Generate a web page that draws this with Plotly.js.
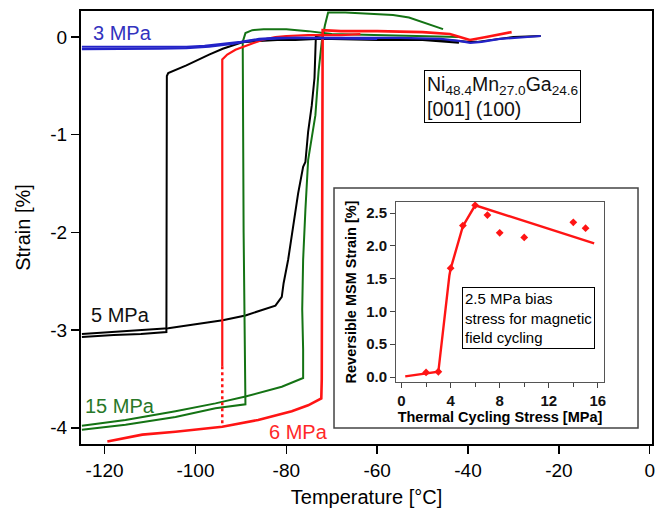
<!DOCTYPE html>
<html>
<head>
<meta charset="utf-8">
<script src="https://cdn.plot.ly/plotly-3.0.1.min.js"></script>
<style>html,body{margin:0;padding:0;background:#fff;}#chart{width:665px;height:514px;}</style>
</head>
<body>
<div id="chart"></div>
<script>
// ---------- main plot data (Temperature °C vs Strain %) ----------
const blue3CoolT = [-24, -28, -33, -37, -39.5, -42, -46, -55, -65, -75, -82, -86, -90, -94, -98, -102, -108, -115, -125];
const blue3CoolS = [0.01, 0.0, -0.02, -0.05, -0.06, -0.04, -0.02, -0.01, -0.01, -0.01, -0.01, -0.02, -0.05, -0.07, -0.09, -0.1, -0.1, -0.1, -0.1];
const blue3HeatT = [-125, -115, -108, -102, -97, -92, -88, -84, -78, -70, -60];
const blue3HeatS = [-0.125, -0.125, -0.12, -0.115, -0.1, -0.07, -0.04, -0.02, -0.01, -0.015, -0.02];

const black5CoolT = [-24, -30, -38, -40, -45, -55, -65, -73.6, -78, -82, -86, -89.7, -94, -97, -102, -106, -106.3, -106.4, -112, -118, -125];
const black5CoolS = [0.01, 0.0, -0.05, -0.05, -0.03, -0.02, -0.02, -0.02, -0.03, -0.03, -0.04, -0.055, -0.12, -0.18, -0.29, -0.37, -0.4, -3.02, -3.04, -3.05, -3.07];
const black5HeatT = [-125, -118, -112, -106, -100, -94, -89, -85.3, -82.4, -81, -80.6, -79.6, -78.5, -77.4, -76.3, -75.8, -75.2, -74.4, -73.8, -73.6, -73.5, -70, -60, -50, -42];
const black5HeatS = [-3.04, -3.02, -3.0, -2.98, -2.94, -2.9, -2.85, -2.79, -2.75, -2.66, -2.52, -2.28, -1.94, -1.6, -1.33, -1.28, -0.97, -0.7, -0.42, -0.18, 0.0, -0.02, -0.03, -0.03, -0.06];

const red6CoolT = [-63.7, -68, -72, -75.2, -80, -82.4, -85.3, -88.4, -91.2, -93, -94.1, -94.1];
const red6CoolS = [0.03, 0.02, 0.02, 0.02, 0.01, 0.0, -0.03, -0.08, -0.13, -0.18, -0.23, -3.37];
const red6DotT = [-94.1, -94.1];
const red6DotS = [-3.37, -3.99];
const red6HeatT = [-119.4, -111.7, -104.4, -94.1, -86.2, -78.8, -75.2, -72.3, -72.2, -72.0, -68, -60, -50, -44, -41.8, -39.6, -36, -33, -30.4];
const red6HeatS = [-4.14, -4.07, -4.04, -3.99, -3.92, -3.83, -3.77, -3.70, -3.5, 0.07, 0.06, 0.06, 0.05, 0.03, 0.0, -0.03, 0.0, 0.03, 0.05];

const green15CoolT = [-42, -50, -60, -70, -75.2, -80, -82.4, -85, -87.5, -89.0, -89.6, -89.4, -89.0, -95.6, -104.4, -115.4, -125];
const green15CoolS = [0.0, 0.01, 0.02, 0.03, 0.06, 0.08, 0.08, 0.08, 0.07, 0.04, -0.05, -2.0, -3.76, -3.80, -3.89, -3.97, -4.02];
const green15HeatT = [-125, -115.4, -104.4, -95.6, -89, -81, -76.3, -76.3, -76.5, -76.3, -75.8, -75.2, -74.4, -73.6, -72.9, -72.2, -71.5, -70.8, -67, -63.7, -60, -56.5, -53, -50.5, -48, -45.5];
const green15HeatS = [-3.98, -3.92, -3.83, -3.75, -3.68, -3.58, -3.49, -3.2, -2.79, -2.28, -1.77, -1.26, -1.03, -0.8, -0.35, -0.05, 0.12, 0.25, 0.25, 0.24, 0.235, 0.225, 0.2, 0.16, 0.12, 0.08];

const xTickVals = [-120, -100, -80, -60, -40, -20, 0];
const xTickText = ['-120', '-100', '-80', '-60', '-40', '-20', '0'];
const yTickVals = [0, -1, -2, -3, -4];
const yTickText = ['0', '-1', '-2', '-3', '-4'];

// ---------- inset data ----------
const insetLineStress = [0.3, 2, 3, 3.9, 4, 5, 6, 15.7];
const insetLineStrain = [0.01, 0.06, 0.08, 1.55, 1.65, 2.3, 2.62, 2.04];
const insetPtStress = [2, 3, 4, 5, 6, 7, 8, 10, 14, 15];
const insetPtStrain = [0.07, 0.08, 1.66, 2.31, 2.62, 2.47, 2.2, 2.13, 2.36, 2.27];
const insetXTicks = [0, 4, 8, 12, 16];
const insetYTicks = [0, 0.5, 1.0, 1.5, 2.0, 2.5];

const BLUE = 'rgb(35,35,200)', BLACK = '#000', RED = 'rgb(255,20,20)', GREEN = 'rgb(20,115,20)';
const FONT = 'Liberation Sans, Arial, Helvetica, sans-serif';

function ln(x, y, color, w, dash) {
  return {x: x, y: y, type: 'scatter', mode: 'lines', xaxis: 'x', yaxis: 'y',
          line: {color: color, width: w, dash: dash || 'solid'}, hoverinfo: 'skip'};
}

const traces = [
  ln(black5CoolT, black5CoolS, BLACK, 2),
  ln(black5HeatT, black5HeatS, BLACK, 2),
  ln(green15CoolT, green15CoolS, GREEN, 2),
  ln(green15HeatT, green15HeatS, GREEN, 2),
  ln(red6CoolT, red6CoolS, RED, 2.2),
  ln(red6DotT, red6DotS, RED, 2.5, 'dot'),
  ln(red6HeatT, red6HeatS, RED, 2.6),
  ln(blue3CoolT, blue3CoolS, BLUE, 2.2),
  ln(blue3HeatT, blue3HeatS, BLUE, 2.2),
  {x: insetLineStress, y: insetLineStrain, type: 'scatter', mode: 'lines', xaxis: 'x2', yaxis: 'y2',
   line: {color: RED, width: 2.4}, hoverinfo: 'skip'},
  {x: insetPtStress, y: insetPtStrain, type: 'scatter', mode: 'markers', xaxis: 'x2', yaxis: 'y2',
   marker: {color: RED, size: 6, symbol: 'diamond'}, hoverinfo: 'skip'}
];

const layout = {
  width: 665, height: 514,
  margin: {l: 81, r: 13, t: 11, b: 70},
  paper_bgcolor: '#fff', plot_bgcolor: '#fff',
  showlegend: false,
  font: {family: FONT, color: '#000', size: 19},
  xaxis: {
    range: [-125.2, 0.5], showgrid: false, zeroline: false,
    showline: true, linecolor: '#000', linewidth: 2, mirror: true,
    ticks: 'outside', ticklen: 8, tickwidth: 1.5, tickcolor: '#000',
    tickvals: xTickVals, ticktext: xTickText, tickfont: {size: 19},
    title: {text: 'Temperature [°C]', font: {size: 20}, standoff: 10}
  },
  yaxis: {
    range: [-4.166, 0.266], showgrid: false, zeroline: false,
    showline: true, linecolor: '#000', linewidth: 2, mirror: true,
    ticks: 'outside', ticklen: 8, tickwidth: 1.5, tickcolor: '#000',
    tickvals: yTickVals, ticktext: yTickText, tickfont: {size: 19},
    title: {text: 'Strain [%]', font: {size: 20}, standoff: 14}
  },
  xaxis2: {
    domain: [0.5517, 0.9159], anchor: 'y2', range: [-0.45, 16.5],
    showgrid: false, zeroline: false,
    showline: true, linecolor: '#555', linewidth: 1, mirror: true,
    ticks: 'outside', ticklen: 5, tickwidth: 1, tickcolor: '#444',
    tickvals: insetXTicks, tickfont: {size: 15, color: '#111', weight: 'bold'},
    minor: {dtick: 2, ticks: 'outside', ticklen: 4, tickwidth: 1, tickcolor: '#444'},
    title: {text: 'Thermal Cycling Stress [MPa]', font: {size: 14.5, weight: 'bold'}, standoff: 2}
  },
  yaxis2: {
    domain: [0.1432, 0.5589], anchor: 'x2', range: [-0.076, 2.67],
    showgrid: false, zeroline: false,
    showline: true, linecolor: '#555', linewidth: 1, mirror: true,
    ticks: 'outside', ticklen: 5, tickwidth: 1, tickcolor: '#444',
    tickvals: insetYTicks, tickformat: '.1f', tickfont: {size: 15, color: '#111', weight: 'bold'},
    title: {text: 'Reversible MSM Strain [%]', font: {size: 14.5, weight: 'bold'}, standoff: 6}
  },
  shapes: [
    {type: 'rect', xref: 'paper', yref: 'paper', x0: 0.4431, x1: 0.9755, y0: 0.037, y1: 0.5912,
     line: {color: '#444', width: 1.5}, fillcolor: 'rgba(0,0,0,0)', layer: 'below'}
  ],
  annotations: [
    {x: -116, y: 0.041, xref: 'x', yref: 'y', text: '3 MPa', showarrow: false, font: {size: 20, color: 'rgb(50,50,190)'}},
    {x: -116.5, y: -2.846, xref: 'x', yref: 'y', text: '5 MPa', showarrow: false, font: {size: 20, color: '#111'}},
    {x: -116.7, y: -3.777, xref: 'x', yref: 'y', text: '15 MPa', showarrow: false, font: {size: 20, color: 'rgb(40,120,40)'}},
    {x: -77.3, y: -4.043, xref: 'x', yref: 'y', text: '6 MPa', showarrow: false, font: {size: 20, color: 'rgb(255,40,40)'}},
    {x: -32.4, y: -0.604, xref: 'x', yref: 'y', align: 'left', showarrow: false,
     text: 'Ni<sub>48.4</sub>Mn<sub>27.0</sub>Ga<sub>24.6</sub><br>[001] (100)',
     font: {size: 19.5, color: '#111'}, bordercolor: '#000', borderwidth: 1, borderpad: 2, bgcolor: '#fff'},
    {x: -26.6, y: -2.881, xref: 'x', yref: 'y', align: 'left', showarrow: false,
     text: '2.5 MPa bias<br>stress for magnetic<br>field cycling',
     font: {size: 15, color: '#000'}, bordercolor: '#000', borderwidth: 1, borderpad: 2, bgcolor: '#fff'}
  ]
};

Plotly.newPlot('chart', traces, layout, {staticPlot: true, displayModeBar: false});
</script>
</body>
</html>
